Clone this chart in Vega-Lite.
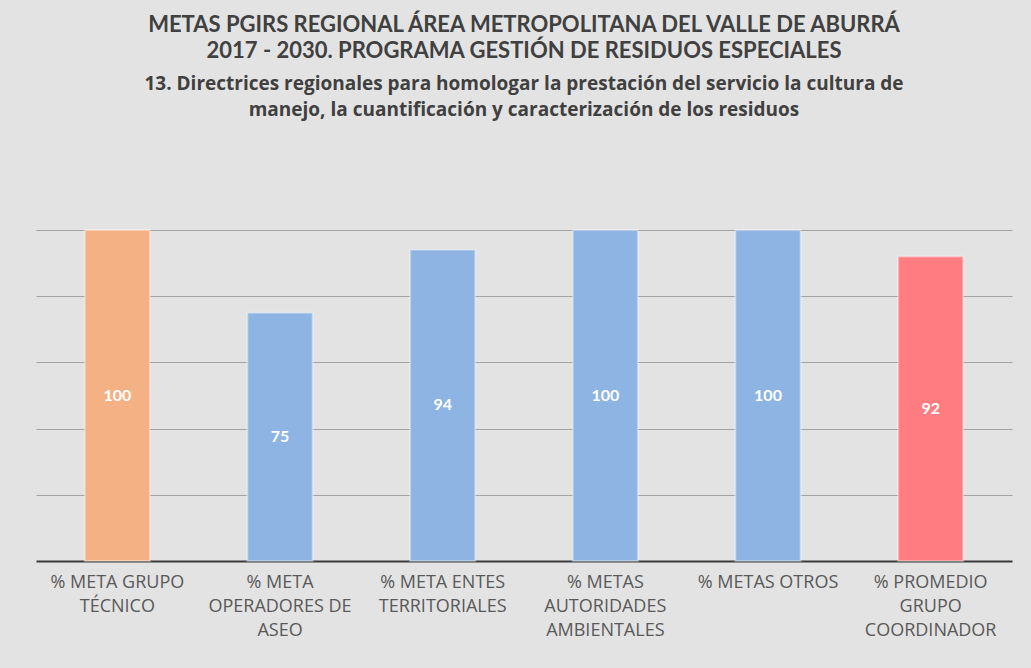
{
  "$schema": "https://vega.github.io/schema/vega-lite/v6.json",
  "width": 976,
  "height": 331,
  "autosize": {"type": "none"},
  "padding": {"left": 36, "top": 230, "right": 19, "bottom": 107},
  "background": "#E3E3E3",
  "title": {
    "text": ["METAS PGIRS REGIONAL ÁREA METROPOLITANA DEL VALLE DE ABURRÁ", "2017 - 2030. PROGRAMA GESTIÓN DE RESIDUOS ESPECIALES"],
    "subtitle": ["13. Directrices regionales para  homologar la prestación del servicio la cultura de", "manejo, la cuantificación y caracterización de los residuos"],
    "anchor": "middle",
    "frame": "group",
    "font": "Lato",
    "fontSize": 22,
    "fontWeight": "bold",
    "color": "#404040",
    "lineHeight": 26,
    "subtitleFont": "Open Sans",
    "subtitleFontSize": 19,
    "subtitleFontWeight": "bold",
    "subtitleColor": "#404040",
    "subtitleLineHeight": 26,
    "subtitlePadding": 12,
    "offset": 108
  },
  "data": {
    "values": [
      {"etiqueta": "% META GRUPO\nTÉCNICO", "valor": 100, "grupo": "técnico"},
      {"etiqueta": "% META\nOPERADORES DE\nASEO", "valor": 75, "grupo": "actores"},
      {"etiqueta": "% META ENTES\nTERRITORIALES", "valor": 94, "grupo": "actores"},
      {"etiqueta": "% METAS\nAUTORIDADES\nAMBIENTALES", "valor": 100, "grupo": "actores"},
      {"etiqueta": "% METAS OTROS", "valor": 100, "grupo": "actores"},
      {"etiqueta": "% PROMEDIO\nGRUPO\nCOORDINADOR", "valor": 92, "grupo": "promedio"}
    ]
  },
  "encoding": {
    "x": {
      "field": "etiqueta",
      "type": "nominal",
      "sort": null,
      "scale": {"paddingInner": 0.6, "paddingOuter": 0.3},
      "axis": {
        "title": null,
        "labelAngle": 0,
        "labelExpr": "split(datum.label, '\\n')",
        "labelFont": "Open Sans",
        "labelFontSize": 18,
        "labelColor": "#595959",
        "labelLineHeight": 24,
        "labelPadding": 12,
        "labelLimit": 200,
        "ticks": false,
        "domain": true,
        "domainColor": "#3A3A3A",
        "domainWidth": 2,
        "grid": false
      }
    },
    "y": {
      "field": "valor",
      "type": "quantitative",
      "scale": {"domain": [0, 100], "nice": false},
      "axis": {
        "title": null,
        "labels": false,
        "ticks": false,
        "domain": false,
        "grid": true,
        "values": [20, 40, 60, 80, 100],
        "gridColor": "#A3A3A3",
        "gridWidth": 1
      }
    }
  },
  "layer": [
    {
      "mark": {"type": "bar", "stroke": "#FFFFFF", "strokeOpacity": 0.35, "strokeWidth": 2},
      "encoding": {
        "color": {
          "field": "grupo",
          "type": "nominal",
          "scale": {"domain": ["técnico", "actores", "promedio"], "range": ["#F4B183", "#8DB4E2", "#FF7C80"]},
          "legend": null
        }
      }
    },
    {
      "mark": {
        "type": "text",
        "baseline": "middle",
        "font": "Lato",
        "fontSize": 16,
        "fontWeight": "bold",
        "color": "#FFFFFF",
        "dy": {"expr": "(height - scale('y', datum.valor)) / 2"}
      },
      "encoding": {
        "text": {"field": "valor", "type": "quantitative"}
      }
    }
  ],
  "config": {"view": {"stroke": null}}
}
